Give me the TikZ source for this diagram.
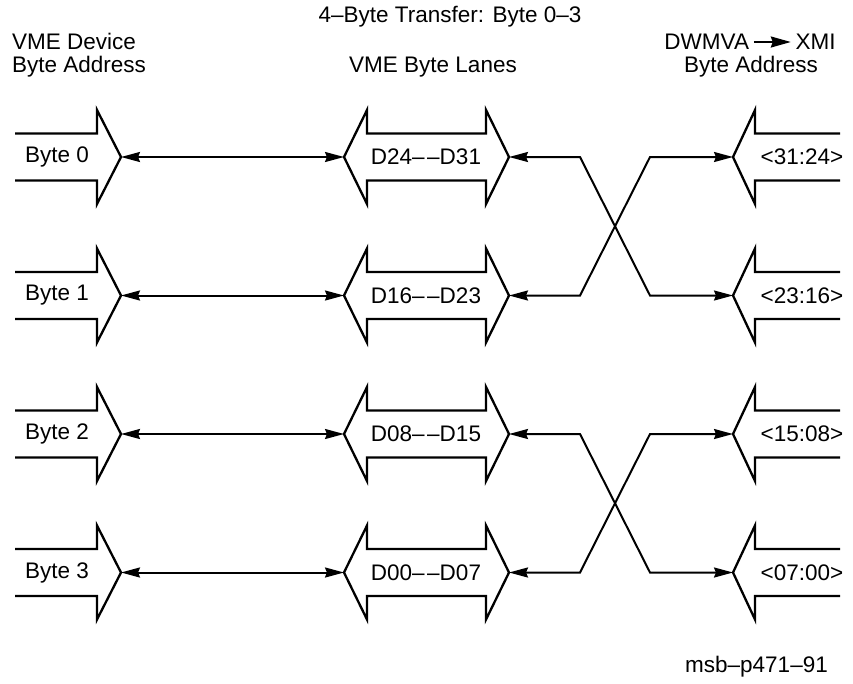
\documentclass[tikz,border=0pt]{standalone}
\usepackage{fontspec}
\setmainfont{Liberation Sans}
\usepackage{tikz}
\usetikzlibrary{arrows.meta, positioning, calc}
\tikzset{
  lbl/.style={font=\fontsize{22.5}{26}\selectfont, inner sep=0pt},
  outline/.style={line width=2.3pt, color=black},
  link/.style={{Stealth[length=19pt, width=10pt, inset=2pt]}-{Stealth[length=19pt, width=10pt, inset=2pt]},
    line width=2pt, color=black}
}
\newcommand{\dd}{–\kern2.5pt–}

\begin{document}
\begin{tikzpicture}[x=1pt, y=-1pt]
  \useasboundingbox (0,0) rectangle (853,683);

  \node[lbl, anchor=base] (title) at (450,22) {4–Byte Transfer: Byte 0–3};
  \node[lbl, anchor=base west] (devhdr) at (12,49) {VME Device};
  \node[lbl, anchor=base west] (devaddr) at (12,72) {Byte Address};
  \node[lbl, anchor=base] (lanehdr) at (433,72) {VME Byte Lanes};
  \node[lbl, anchor=base] (xmihdr) at (750,49) {DWMVA\,\tikz[baseline=-7pt]\draw[-{Stealth[length=20pt, width=11pt, inset=2pt]}, line width=2pt] (0pt,0pt) -- (37pt,0pt);\,XMI};
  \node[lbl, anchor=base] (xmiaddr) at (751,72) {Byte Address};

  \foreach \i/\lane/\xmi in {0/D24\dd D31/<31:24>, 1/D16\dd D23/<23:16>,
                            2/D08\dd D15/<15:08>, 3/D00\dd D07/<07:00>} {
    \pgfmathsetmacro\yy{157+138.5*\i}
    % device side
    \draw[outline] (15,\yy-23.5) -- (97,\yy-23.5) -- (97,\yy-47) -- (121,\yy)
      -- (97,\yy+47) -- (97,\yy+23.5) -- (15,\yy+23.5);
    \coordinate (byte\i-tip) at (121,\yy);
    \node[lbl] (byte\i) at (57,\yy) {Byte \i};
    % byte lanes
    \draw[outline] (367,\yy-23.5) -- (486,\yy-23.5) -- (486,\yy-47) -- (509,\yy)
      -- (486,\yy+47) -- (486,\yy+23.5) -- (367,\yy+23.5) -- (367,\yy+47)
      -- (344,\yy) -- (367,\yy-47) -- cycle;
    \coordinate (lane\i-l) at (344,\yy);
    \coordinate (lane\i-r) at (509,\yy);
    \node[lbl] (lane\i) at (426,\yy) {\lane};
    % xmi side
    \draw[outline] (840,\yy-23.5) -- (755,\yy-23.5) -- (755,\yy-47) -- (733,\yy)
      -- (755,\yy+47) -- (755,\yy+23.5) -- (840,\yy+23.5);
    \coordinate (xmi\i-tip) at (733,\yy);
    \node[lbl] (xmi\i) at (802,\yy) {\xmi};

    \draw[link] (byte\i-tip) -- (lane\i-l);
  }

  % swapped lanes
  \foreach \a/\b in {0/1, 1/0, 2/3, 3/2} {
    \draw[link] (lane\a-r) -- ++(71,0) -- ($(xmi\b-tip)+(-83,0)$) -- (xmi\b-tip);
  }

  \node[lbl, anchor=base east] (figid) at (828,672) {msb–p471–91};
\end{tikzpicture}
\end{document}
